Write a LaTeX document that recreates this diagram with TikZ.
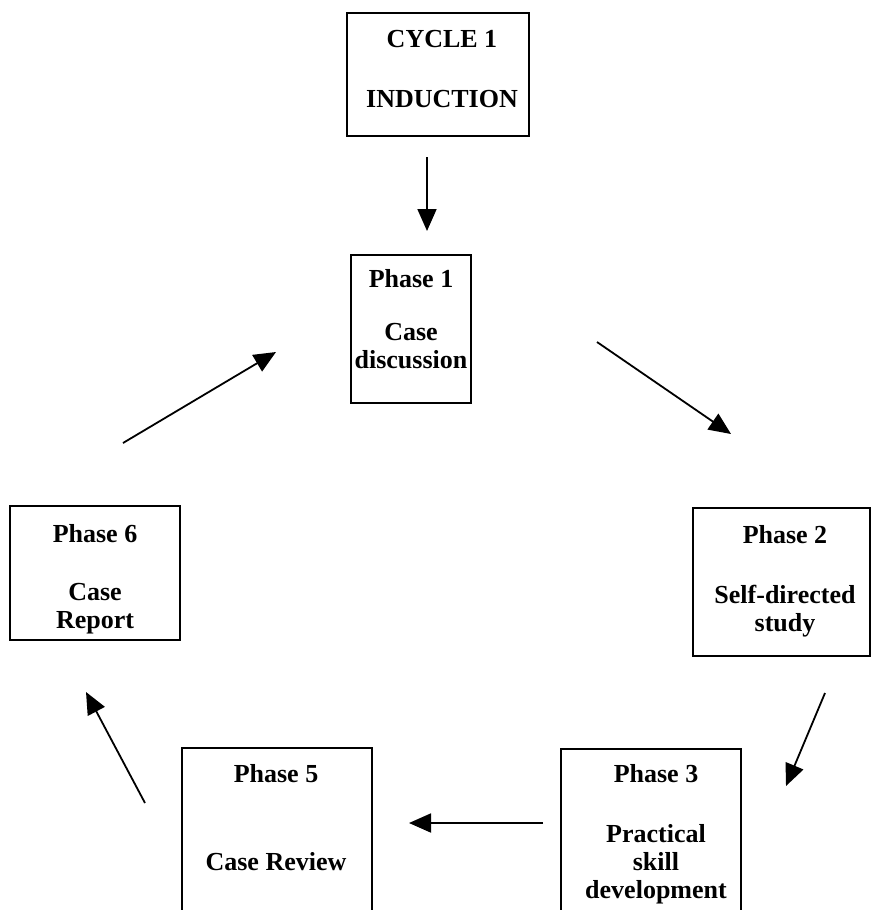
\documentclass[tikz,border=0pt]{standalone}
\usepackage{fontspec}
\setmainfont{Liberation Serif}
\usetikzlibrary{arrows.meta}
\begin{document}
\begin{tikzpicture}[x=1pt,y=-1pt,
  stagebox/.style={draw, line width=1.6pt, inner sep=0pt},
  stagetext/.style={anchor=north, align=center, inner sep=0pt,
    font=\fontsize{26}{28}\selectfont\bfseries},
  flow/.style={line width=1.8pt, -{Triangle[length=22pt,width=19pt]}}]
\useasboundingbox (0,0) rectangle (871,910);
\clip (0,0) rectangle (871,910);

% boxes
\draw[stagebox] (347,13) rectangle (529,136) coordinate (c1box);
\draw[stagebox] (351,255) rectangle (471,403);
\draw[stagebox] (10,506) rectangle (180,640);
\draw[stagebox] (693,508) rectangle (870,656);
\draw[stagebox] (182,748) rectangle (372,940);
\draw[stagebox] (561,749) rectangle (741,940);

% box texts
\node[stagetext] (c1) at (442,30) {CYCLE 1\\[32pt]INDUCTION};
\node[stagetext] (p1) at (411,269.5) {Phase 1\\[25pt]Case\\discussion};
\node[stagetext] (p6) at (95,524.5) {Phase 6\\[30pt]Case\\Report};
\node[stagetext] (p2) at (785,525.5) {Phase 2\\[32pt]Self-directed\\study};
\node[stagetext] (p5) at (276,764.5) {Phase 5\\[60pt]Case Review};
\node[stagetext] (p3) at (656,764.5) {Phase 3\\[32pt]Practical\\skill\\development};

% arrow end points
\coordinate (a1s) at (427,157);  \coordinate (a1e) at (427,231);
\coordinate (a2s) at (597,342);  \coordinate (a2e) at (731,434);
\coordinate (a3s) at (123,443);  \coordinate (a3e) at (276,352);
\coordinate (a4s) at (825,693);  \coordinate (a4e) at (786,786);
\coordinate (a5s) at (543,823);  \coordinate (a5e) at (409,823);
\coordinate (a6s) at (145,803);  \coordinate (a6e) at (86,692);

% cycle arrows
\draw[flow] (a1s) -- (a1e);
\draw[flow] (a2s) -- (a2e);
\draw[flow] (a4s) -- (a4e);
\draw[flow] (a5s) -- (a5e);
\draw[flow] (a6s) -- (a6e);
\draw[flow] (a3s) -- (a3e);
\end{tikzpicture}
\end{document}
